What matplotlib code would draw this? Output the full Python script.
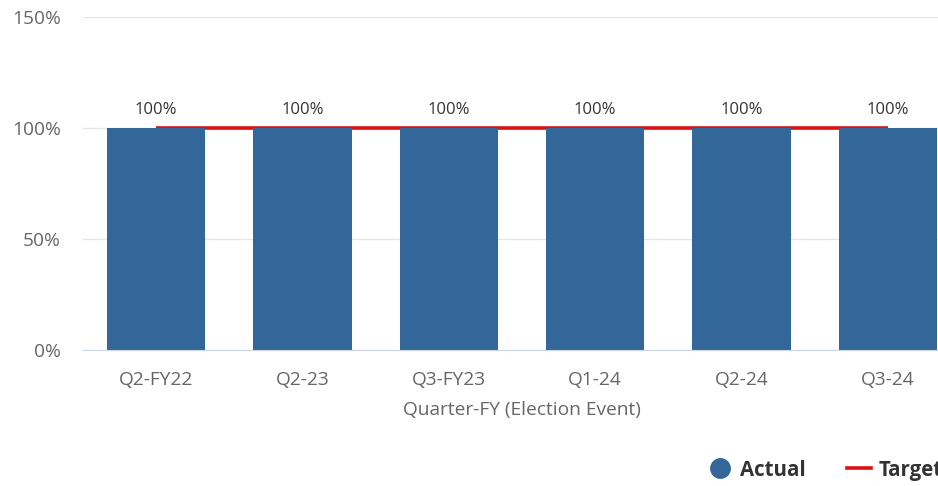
import matplotlib.pyplot as plt
from matplotlib.lines import Line2D

plt.rcParams['font.family'] = ['Open Sans', 'DejaVu Sans']

quarters = ['Q2-FY22', 'Q2-23', 'Q3-FY23', 'Q1-24', 'Q2-24', 'Q3-24']
actual = [100, 100, 100, 100, 100, 100]
target = [100, 100, 100, 100, 100, 100]

bar_col = '#336699'
red = '#dd1111'

fig = plt.figure(figsize=(9.38, 4.86), dpi=100)
# axes runs past the right edge, so the last column is cut off
ax = fig.add_axes([83 / 938, 136 / 486, 878 / 938, 333 / 486])

x = list(range(len(quarters)))
ax.plot(x, target, color=red, lw=2.6, zorder=2, solid_capstyle='butt')
bars = ax.bar(x, actual, width=0.67, color=bar_col, zorder=3)
for xi, v in zip(x, actual):
    ax.text(xi, v + 4.5, f'{v}%', ha='center', va='bottom', fontsize=12, color='#333333', zorder=4)

ax.set_xlim(-0.5, len(quarters) - 0.5)
ax.set_ylim(0, 150)
ax.set_yticks([0, 50, 100, 150])
ax.set_yticklabels(['0%', '50%', '100%', '150%'])
ax.set_xticks(x)
ax.set_xticklabels(quarters)
ax.tick_params(axis='both', length=0, labelsize=13.8, labelcolor='#666666')
ax.tick_params(axis='y', pad=16)
ax.tick_params(axis='x', pad=15)
ax.set_xlabel('Quarter-FY (Election Event)', fontsize=13.8, color='#666666', labelpad=9)

ax.grid(axis='y', color='#e6e6e6', lw=1, zorder=0)
for s in ['top', 'right', 'left']:
    ax.spines[s].set_visible(False)
ax.spines['bottom'].set_color('#ccd6eb')
ax.spines['bottom'].set_zorder(4)

handles = [
    Line2D([], [], marker='o', ls='none', color=bar_col, markersize=14),
    Line2D([], [], color=red, lw=2.6),
]
leg = fig.legend(handles, ['Actual', 'Target'], loc='center left',
                 bbox_to_anchor=(690 / 938, 1 - 470 / 486), ncol=2, frameon=False,
                 prop={'weight': 'bold', 'size': 14.8}, handlelength=1.15,
                 handletextpad=0.4, columnspacing=2.0)
for t in leg.get_texts():
    t.set_color('#333333')

fig.savefig('out.png', dpi=100)
